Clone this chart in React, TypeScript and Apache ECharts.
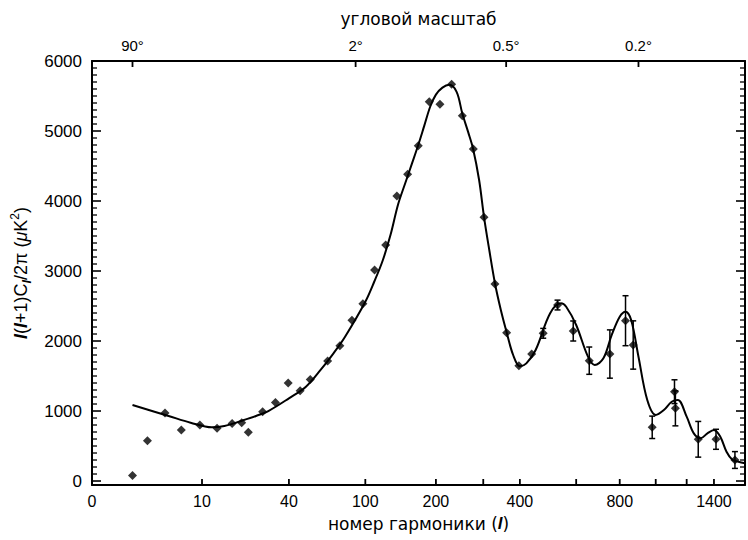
import React, { useEffect, useRef } from "react";
import * as echarts from "echarts";

// Bottom axis: multipole l (labels and ticks)
const X_LABEL_ELLS = [0, 10, 40, 100, 200, 400, 800, 1400];
const X_TICK_ELLS = [10, 40, 100, 200, 300, 400, 600, 800, 1000, 1200, 1400];
// Top axis: angular scale
const TOP_LABELS = ["90°", "2°", "0.5°", "0.2°"];
const TOP_ELLS = [2, 90, 360, 900];
// Y axis labels
const Y_LABELS = [0, 1000, 2000, 3000, 4000, 5000, 6000];
const Y_MINOR_STEP = 100;

// Theory curve
const THEORY_ELL = [2, 5, 8, 12, 15, 20, 25, 30, 40, 50, 60, 70, 80, 100, 110, 120, 130, 140, 150, 160, 170, 180, 190, 200, 212, 225, 240, 252, 265, 276, 290, 302, 315, 330, 345, 360, 380, 400, 420, 450, 500, 540, 560, 600, 650, 680, 720, 760, 800, 830, 860, 900, 950, 1000, 1050, 1100, 1140, 1200, 1250, 1300, 1350, 1400, 1450, 1500, 1550, 1600, 1657];
const THEORY_VAL = [1086, 929, 833, 767, 786, 861, 929, 1000, 1181, 1347, 1586, 1824, 2061, 2561, 2850, 3150, 3520, 3950, 4250, 4530, 4800, 5080, 5350, 5520, 5620, 5660, 5560, 5250, 4980, 4743, 4300, 3767, 3300, 2814, 2450, 2150, 1800, 1640, 1681, 1871, 2396, 2538, 2490, 2229, 1776, 1657, 1752, 2086, 2347, 2419, 2300, 1776, 1157, 943, 1014, 1133, 1157, 919, 681, 610, 681, 729, 633, 419, 300, 276, 253];

// Measured band powers
const DATA_ELL = [2, 3, 4.6, 6.6, 9.6, 13.2, 17.1, 20, 22.2, 27.6, 33.2, 39.6, 46.4, 52.8, 65.3, 75.4, 86.4, 97.4, 110.3, 123.7, 138.4, 153.7, 170, 188.3, 207.4, 229.9, 252, 276.4, 301.8, 329.6, 361.3, 397, 437, 475.6, 527, 588, 655.6, 751, 830, 871, 979, 1118, 1124, 1282, 1416, 1570];
const DATA_VAL = [80, 575, 970, 730, 800, 752, 822, 833, 696, 990, 1120, 1400, 1290, 1450, 1714, 1933, 2296, 2533, 3014, 3371, 4071, 4381, 4790, 5419, 5381, 5667, 5219, 4743, 3767, 2814, 2119, 1647, 1814, 2110, 2514, 2143, 1719, 1814, 2290, 1943, 767, 1276, 1038, 596, 596, 300];
const DATA_ERR = [0, 0, 0, 0, 0, 0, 0, 0, 0, 0, 0, 0, 0, 0, 0, 0, 0, 0, 0, 0, 0, 0, 0, 0, 0, 0, 0, 0, 0, 0, 0, 0, 0, 70, 70, 143, 195, 345, 357, 345, 160, 170, 250, 255, 143, 120];

// axis transform: position ~ l^(1/4)
const toU = (ell: number) => Math.pow(ell, 0.25);
const fromU = (u: number) => Math.pow(u, 4);
const U_MIN = 0.846;
const U_MAX = 6.38;
const Y_MIN = -57;
const Y_MAX = 6000;

const FONT = "Liberation Sans, Arial, sans-serif";
const TITLE_FONT = "DejaVu Sans, sans-serif";

export default function App() {
  const ref = useRef<HTMLDivElement>(null);
  useEffect(() => {
    if (!ref.current) return;
    const chart = echarts.init(ref.current, null, { renderer: "svg" });

    const xLabelU = X_LABEL_ELLS.map((l) => (l === 0 ? U_MIN : toU(l)));
    const topU = TOP_ELLS.map(toU);
    const yMinor: number[] = [];
    for (let v = Y_LABELS[0]; v <= Y_LABELS[Y_LABELS.length - 1]; v += Y_MINOR_STEP) {
      if (Y_LABELS.indexOf(v) < 0) yMinor.push(v);
    }

    const theory = THEORY_ELL.map((l, i) => [toU(l), THEORY_VAL[i]]);
    const points = DATA_ELL.map((l, i) => [toU(l), DATA_VAL[i]]);
    const errs = DATA_ELL.map((l, i) => [toU(l), DATA_VAL[i] - DATA_ERR[i], DATA_VAL[i] + DATA_ERR[i]]).filter((d, i) => DATA_ERR[i] > 0);

    const axisLine = { show: true, onZero: false, lineStyle: { color: "#000", width: 2 } };

    const yAxisBase = (pos: "left" | "right") => ({
      type: "value",
      position: pos,
      min: Y_MIN,
      max: Y_MAX,
      splitLine: { show: false },
      axisLine,
      axisTick: { show: false },
      axisLabel:
        pos === "left"
          ? {
              show: true,
              customValues: Y_LABELS,
              color: "#000",
              fontSize: 17,
              fontFamily: FONT,
              margin: 10,
              formatter: (v: number) => String(Math.round(v)),
            }
          : { show: false },
    });

    const option: any = {
      animation: false,
      grid: { left: 92, right: 3, top: 61, bottom: 55 },
      xAxis: [
        {
          type: "value",
          position: "bottom",
          min: U_MIN,
          max: U_MAX,
          splitLine: { show: false },
          axisLine,
          axisTick: { show: false },
          axisLabel: {
            customValues: xLabelU,
            color: "#000",
            fontSize: 16,
            fontFamily: FONT,
            margin: 8,
            formatter: (v: number) => (v <= U_MIN + 1e-6 ? "0" : String(Math.round(fromU(v)))),
          },
          name: "номер гармоники ({i|l})",
          nameLocation: "middle",
          nameGap: 30,
          nameTextStyle: {
            color: "#000",
            fontSize: 17,
            fontFamily: TITLE_FONT,
            rich: { i: { fontStyle: "italic", fontWeight: "bold", fontSize: 17, fontFamily: FONT, color: "#000" } },
          },
        },
        {
          type: "value",
          position: "top",
          min: U_MIN,
          max: U_MAX,
          splitLine: { show: false },
          axisLine,
          axisTick: { show: false },
          axisLabel: {
            customValues: topU,
            color: "#000",
            fontSize: 15,
            fontFamily: FONT,
            margin: 8,
            formatter: (v: number) => {
              let best = 0;
              topU.forEach((u, i) => {
                if (Math.abs(u - v) < Math.abs(topU[best] - v)) best = i;
              });
              return TOP_LABELS[best];
            },
          },
          name: "угловой масштаб",
          nameLocation: "middle",
          nameGap: 34,
          nameTextStyle: { color: "#000", fontSize: 17, fontFamily: TITLE_FONT },
        },
      ],
      yAxis: [
        {
          ...yAxisBase("left"),
          name: "{i|l}({i|l}+1)C{s|l}/2π ({n|μ}K{p|2})",
          nameLocation: "middle",
          nameRotate: 90,
          nameGap: 58,
          nameTextStyle: {
            color: "#000",
            fontSize: 18,
            fontFamily: FONT,
            lineHeight: 24,
            rich: {
              i: { fontStyle: "italic", fontWeight: "bold", fontSize: 18, fontFamily: FONT, color: "#000", lineHeight: 24 },
              s: { fontStyle: "italic", fontWeight: "bold", fontSize: 13, fontFamily: FONT, color: "#000", verticalAlign: "bottom", lineHeight: 24, padding: [6, 0, 0, 0] },
              p: { fontSize: 12, fontFamily: FONT, color: "#000", verticalAlign: "top", lineHeight: 16 },
              n: { fontStyle: "italic", fontSize: 18, fontFamily: FONT, color: "#000", lineHeight: 24 },
            },
          },
        },
        yAxisBase("right"),
      ],
      series: [
        {
          type: "line",
          data: theory,
          smooth: 0.35,
          showSymbol: false,
          xAxisIndex: 0,
          yAxisIndex: 0,
          lineStyle: { color: "#000", width: 2 },
          z: 2,
        },
        {
          type: "custom",
          xAxisIndex: 0,
          yAxisIndex: 0,
          data: errs,
          encode: { x: 0, y: [1, 2] },
          renderItem: (params: any, api: any) => {
            const x = api.value(0);
            const lo = api.coord([x, api.value(1)]);
            const hi = api.coord([x, api.value(2)]);
            const w = 3;
            const st = { stroke: "#000", lineWidth: 1.5 };
            return {
              type: "group",
              children: [
                { type: "line", shape: { x1: lo[0], y1: lo[1], x2: hi[0], y2: hi[1] }, style: st },
                { type: "line", shape: { x1: lo[0] - w, y1: lo[1], x2: lo[0] + w, y2: lo[1] }, style: st },
                { type: "line", shape: { x1: hi[0] - w, y1: hi[1], x2: hi[0] + w, y2: hi[1] }, style: st },
              ],
            };
          },
          z: 3,
        },
        {
          type: "scatter",
          data: points,
          xAxisIndex: 0,
          yAxisIndex: 0,
          symbol: "diamond",
          symbolSize: 9,
          itemStyle: { color: "#000" },
          z: 4,
        },
      ],
    };
    chart.setOption(option);

    // Tick marks: positions converted through the chart's own axis scales
    const finder = { xAxisIndex: 0, yAxisIndex: 0 };
    const px = (u: number, v: number) => chart.convertToPixel(finder, [u, v]) as number[];
    const tickEls: any[] = [];
    const addTick = (p: number[], dx: number, dy: number, w: number) => {
      if (!p || isNaN(p[0]) || isNaN(p[1])) return;
      tickEls.push({
        type: "line",
        z: 100,
        silent: true,
        shape: { x1: p[0], y1: p[1], x2: p[0] + dx, y2: p[1] + dy },
        style: { stroke: "#000", lineWidth: w },
      });
    };
    X_TICK_ELLS.forEach((l) => addTick(px(toU(l), Y_MIN), 0, -6, 1.8));
    TOP_ELLS.forEach((l) => addTick(px(toU(l), Y_MAX), 0, 6, 1.8));
    Y_LABELS.forEach((v) => {
      addTick(px(U_MIN, v), 9, 0, 1.6);
      addTick(px(U_MAX, v), -9, 0, 1.6);
    });
    yMinor.forEach((v) => {
      addTick(px(U_MIN, v), 5, 0, 1.3);
      addTick(px(U_MAX, v), -5, 0, 1.3);
    });
    chart.setOption({ graphic: { elements: tickEls } });

    return () => chart.dispose();
  }, []);

  return <div ref={ref} style={{ position: "fixed", left: 0, top: 0, width: 748, height: 540, background: "#fff" }} />;
}
